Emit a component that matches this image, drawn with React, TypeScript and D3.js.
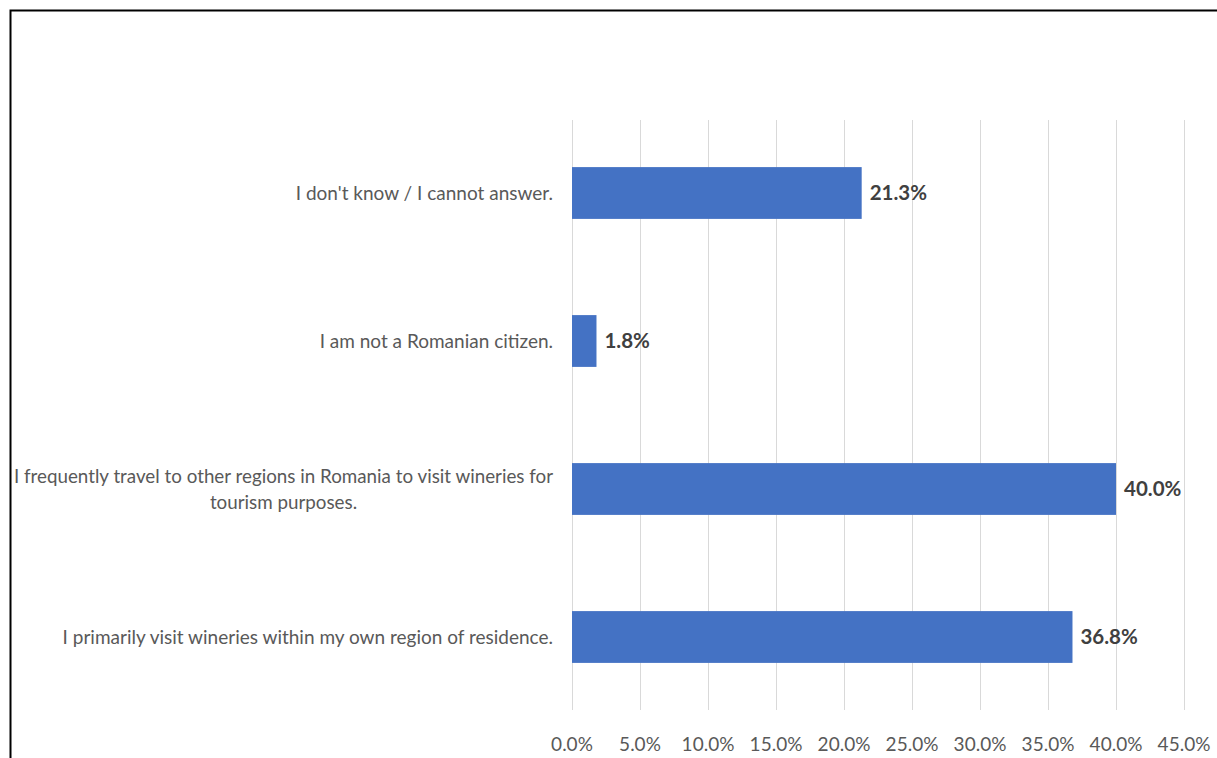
import React from "react";
import * as d3 from "d3";

const categories: string[][] = [
  ["I don't know / I cannot answer."],
  ["I am not a Romanian citizen."],
  ["I frequently travel to other regions in Romania to visit wineries for", "tourism purposes."],
  ["I primarily visit wineries within my own region of residence."],
];
const values: number[] = [21.3, 1.8, 40.0, 36.8];
const ticks: number[] = [0, 5, 10, 15, 20, 25, 30, 35, 40, 45];

const W = 1217;
const H = 758;
const FONT = "Lato, 'Open Sans', sans-serif";

export default function App() {
  const x = d3.scaleLinear().domain([0, 45]).range([572, 1184]);
  const keys = categories.map((c) => c.join(" "));
  const y = d3
    .scaleBand<string>()
    .domain(keys)
    .range([119, 711])
    .paddingInner(0.65)
    .paddingOuter(0.325);
  const bw = y.bandwidth();

  return (
    <svg
      width={W}
      height={H}
      style={{ position: "absolute", left: 0, top: 0, background: "#fff" }}
      fontFamily={FONT}
    >
      <rect x={0} y={0} width={W} height={H} fill="#fff" />
      <path d={`M10.5,${H} V10.5 H${W}`} fill="none" stroke="#000" strokeWidth={2} />
      {ticks.map((t) => (
        <g key={t}>
          <line
            x1={Math.round(x(t)) + 0.5}
            x2={Math.round(x(t)) + 0.5}
            y1={120}
            y2={710}
            stroke="#d9d9d9"
            strokeWidth={1}
          />
          <text x={x(t)} y={751} textAnchor="middle" fontSize={19} fill="#595959">
            {t.toFixed(1) + "%"}
          </text>
        </g>
      ))}
      {keys.map((k, i) => {
        const y0 = y(k) as number;
        const cy = y0 + bw / 2;
        const lines = categories[i];
        return (
          <g key={k}>
            <rect x={x(0)} y={y0} width={x(values[i]) - x(0)} height={bw} fill="#4472C4" />
            <text
              x={x(values[i]) + 8}
              y={cy + 7}
              fontSize={20.5}
              fontWeight="bold"
              fill="#404040"
            >
              {values[i].toFixed(1) + "%"}
            </text>
            {lines.length === 1 ? (
              <text x={553} y={cy + 7} textAnchor="end" fontSize={19} fill="#595959">
                {lines[0]}
              </text>
            ) : (
              <g>
                {lines.map((ln, j) => (
                  <text
                    key={j}
                    x={283.5}
                    y={cy + 7 - 13 + j * 26}
                    textAnchor="middle"
                    fontSize={18.8}
                    fill="#595959"
                  >
                    {ln}
                  </text>
                ))}
              </g>
            )}
          </g>
        );
      })}
    </svg>
  );
}
